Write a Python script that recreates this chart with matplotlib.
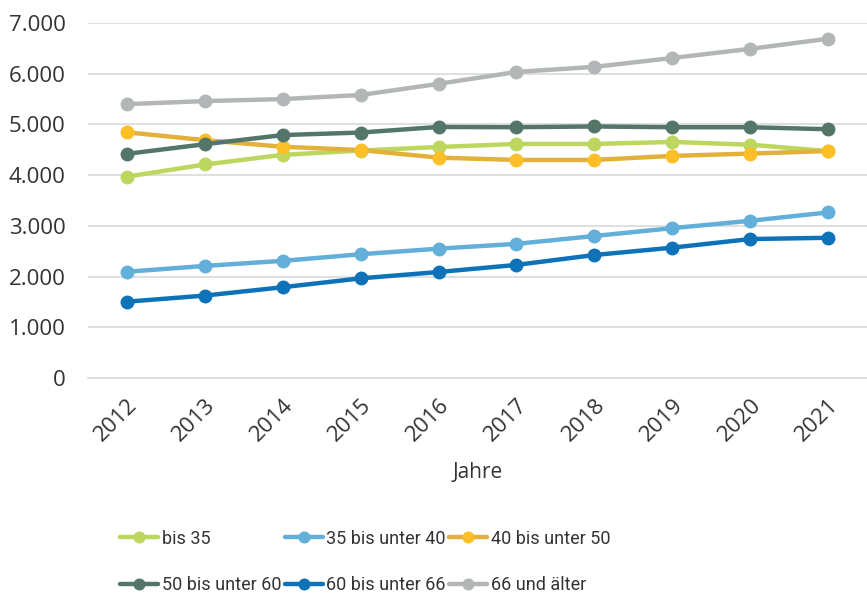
import matplotlib.pyplot as plt
import matplotlib.ticker as mticker

plt.rcParams['font.family'] = ['Open Sans', 'DejaVu Sans']

years = ["2012", "2013", "2014", "2015", "2016", "2017", "2018", "2019", "2020", "2021"]

bis_35 = [3970, 4210, 4400, 4485, 4555, 4615, 4615, 4655, 4600, 4475]
bis_40 = [2095, 2210, 2310, 2440, 2550, 2645, 2800, 2955, 3100, 3265]
bis_50 = [4845, 4690, 4560, 4495, 4345, 4300, 4300, 4380, 4425, 4475]
bis_60 = [4420, 4610, 4790, 4840, 4950, 4945, 4960, 4945, 4945, 4905]
bis_66 = [1505, 1625, 1790, 1965, 2090, 2230, 2425, 2570, 2740, 2765]
ab_66 = [5400, 5460, 5500, 5580, 5800, 6035, 6135, 6310, 6490, 6690]

labels = ["bis 35", "35 bis unter 40", "40 bis unter 50",
          "50 bis unter 60", "60 bis unter 66", "66 und älter"]

fig = plt.figure(figsize=(8.67, 5.94), dpi=100)
ax = fig.add_axes([88 / 867, 1 - 378 / 594, 779 / 867, 355 / 594])

x = range(len(years))
series = [
    (bis_35, "#bcd65e", "#bcd65e"),
    (bis_40, "#62afd9", "#62afd9"),
    (bis_50, "#e2b13c", "#fdbf27"),
    (bis_60, "#537669", "#537669"),
    (bis_66, "#0e72b8", "#0e72b8"),
    (ab_66, "#b3b6b6", "#b3b6b6"),
]
handles = []
for (vals, lc, mc), lab in zip(series, labels):
    h, = ax.plot(x, vals, color=lc, lw=3.2, marker="o", ms=9,
                 markerfacecolor=mc, markeredgecolor=mc, label=lab,
                 solid_capstyle="round")
    handles.append(h)

ax.set_ylim(0, 7000)
ax.set_xlim(-0.5, 9.5)
ax.yaxis.set_major_locator(mticker.MultipleLocator(1000))
ax.yaxis.set_major_formatter(mticker.FuncFormatter(lambda v, p: f"{int(v):,}".replace(",", ".")))
ax.grid(axis="y", color="#d9d9d9", lw=1.2)
ax.set_axisbelow(True)
for s in ["top", "right", "left"]:
    ax.spines[s].set_visible(False)
ax.spines["bottom"].set_color("#d9d9d9")
ax.spines["bottom"].set_linewidth(1.2)
ax.tick_params(length=0, labelsize=16, colors="#333333")
ax.tick_params(axis="y", pad=16)
ax.tick_params(axis="x", pad=12)
ax.set_xticks(list(x))
ax.set_xticklabels(years, rotation=45, ha="right", rotation_mode="anchor")
ax.set_xlabel("Jahre", fontsize=15, color="#333333", labelpad=12)

# legend laid out row-wise like the original
order = [0, 3, 1, 4, 2, 5]
fig.legend([handles[i] for i in order], [labels[i] for i in order],
           ncol=3, loc="center left", bbox_to_anchor=(111 / 867, 1 - 562 / 594),
           frameon=False, borderpad=0,
           prop={"family": ["Roboto", "Open Sans"], "size": 13},
           labelcolor="#333333",
           handlelength=2.1, handletextpad=0.2, columnspacing=0.2,
           labelspacing=1.6, markerscale=0.85)

fig.savefig("out.png", dpi=100)
